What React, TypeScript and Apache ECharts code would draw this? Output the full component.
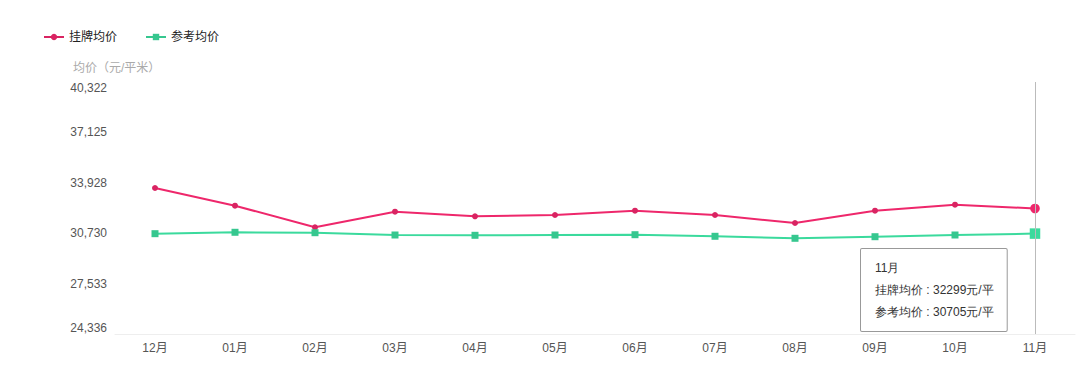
import React, { useEffect, useRef } from "react";
import * as echarts from "echarts";

const months = ["12月", "01月", "02月", "03月", "04月", "05月", "06月", "07月", "08月", "09月", "10月", "11月"];
const listingAvg = [33598, 32475, 31105, 32094, 31802, 31885, 32158, 31885, 31378, 32158, 32538, 32299];
const referenceAvg = [30700, 30788, 30762, 30616, 30597, 30616, 30635, 30534, 30407, 30508, 30616, 30705];
const yTicks = [24336, 27533.2, 30730.4, 33927.6, 37124.8, 40322];
const seriesNames = ["挂牌均价", "参考均价"];
const yAxisTitle = "均价（元/平米）";
const unit = "元/平";

const FONT = '"Liberation Sans", "Noto Sans CJK SC", sans-serif';
const RED = "#d92462";
const GREEN = "#36c78f";

export default function App() {
  const ref = useRef<HTMLDivElement>(null);
  useEffect(() => {
    if (!ref.current) return;
    const chart = echarts.init(ref.current, null, { renderer: "svg" });
    const last = months.length - 1;
    chart.setOption({
      animation: false,
      backgroundColor: "#ffffff",
      textStyle: { fontFamily: FONT },
      legend: {
        left: 38,
        top: 26,
        itemWidth: 20,
        itemHeight: 8,
        itemGap: 28,
        textStyle: { fontSize: 12, color: "#222", fontFamily: FONT },
        data: seriesNames,
      },
      graphic: [
        {
          type: "text",
          left: 73,
          top: 62,
          style: { text: yAxisTitle, fill: "#aaa", fontSize: 12, fontFamily: FONT },
        },
      ],
      grid: { left: 115, right: 5, top: 82, bottom: 43 },
      tooltip: {
        trigger: "axis",
        renderMode: "richText",
        triggerOn: "none",
        alwaysShowContent: true,
        transitionDuration: 0,
        backgroundColor: "#ffffff",
        borderColor: "#999",
        borderWidth: 1,
        borderRadius: 1,
        shadowBlur: 0,
        shadowOffsetX: 0,
        shadowOffsetY: 0,
        shadowColor: "rgba(0,0,0,0)",
        padding: [8, 13, 8, 14],
        textStyle: {
          color: "#333",
          fontSize: 12,
          lineHeight: 18,
          fontFamily: FONT,
          rich: { t: { color: "#333", fontSize: 12, lineHeight: 18, fontFamily: FONT } },
        },
        position: [860, 248],
        axisPointer: { type: "line", lineStyle: { color: "#bbb", width: 1, type: "solid" } },
        formatter: (params: any) => {
          const p = Array.isArray(params) ? params : [params];
          const i = p[0].dataIndex;
          return (
            "{t|" + months[i] + "}\n" +
            "{t|" + seriesNames[0] + " : " + listingAvg[i] + unit + "}\n" +
            "{t|" + seriesNames[1] + " : " + referenceAvg[i] + unit + "}"
          );
        },
      },
      xAxis: {
        type: "category",
        data: months,
        boundaryGap: true,
        axisLine: { lineStyle: { color: "#eeeeee" } },
        axisTick: { show: false },
        axisLabel: { color: "#555", fontSize: 12, margin: 8, fontFamily: FONT },
      },
      yAxis: {
        type: "value",
        min: 24336,
        max: 40322,
        axisLine: { show: false },
        axisTick: { show: false },
        splitLine: { show: false },
        axisLabel: {
          customValues: yTicks,
          color: "#555",
          fontSize: 12,
          margin: 8,
          fontFamily: FONT,
          verticalAlignMinLabel: "bottom",
          verticalAlignMaxLabel: "top",
          formatter: (v: number) => Math.round(v).toLocaleString("en-US"),
        },
      },
      series: [
        {
          name: seriesNames[0],
          type: "line",
          data: listingAvg,
          symbol: "circle",
          symbolSize: 6,
          showAllSymbol: true,
          itemStyle: { color: RED },
          lineStyle: { color: RED, width: 2 },
          emphasis: { scale: 1.6 },
        },
        {
          name: seriesNames[1],
          type: "line",
          data: referenceAvg,
          symbol: "rect",
          symbolSize: 7,
          showAllSymbol: true,
          itemStyle: { color: GREEN },
          lineStyle: { color: GREEN, width: 2 },
          emphasis: { scale: 1.5 },
        },
      ],
    });
    chart.dispatchAction({ type: "showTip", seriesIndex: 0, dataIndex: last });
    return () => chart.dispose();
  }, []);
  return (
    <div
      ref={ref}
      style={{ position: "absolute", left: 0, top: 0, width: 1080, height: 377 }}
    />
  );
}
